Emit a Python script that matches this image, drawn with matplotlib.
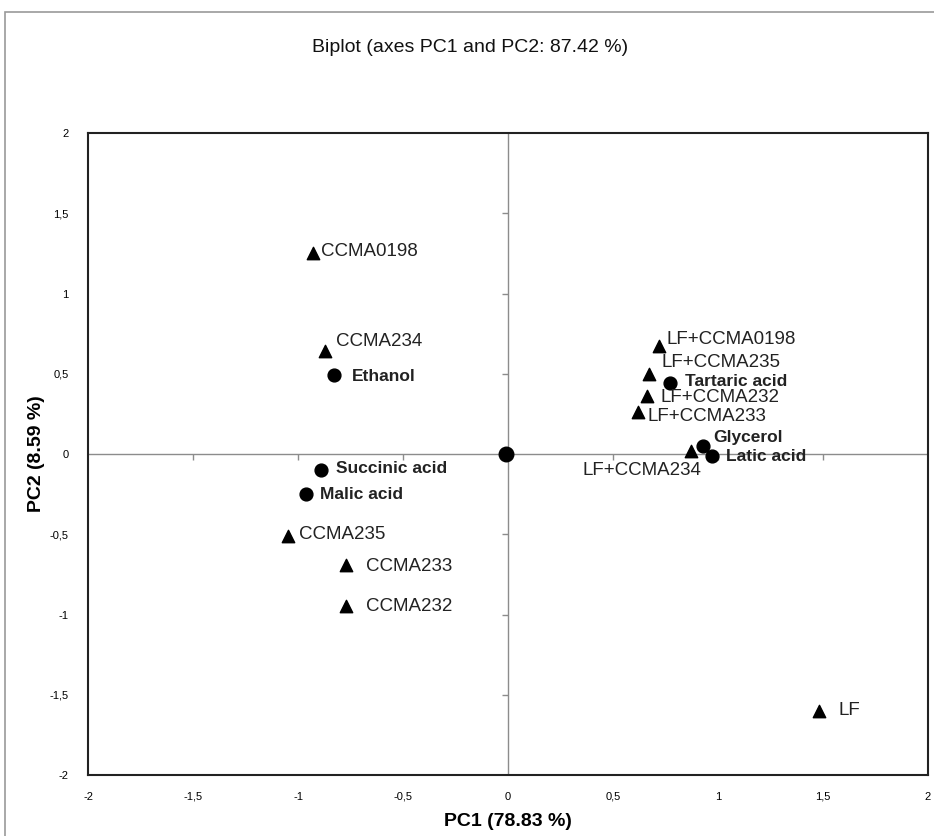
import matplotlib
matplotlib.use("Agg")
import matplotlib.pyplot as plt
from matplotlib.patches import Rectangle
from matplotlib.markers import TICKDOWN, TICKLEFT

# observations (triangles)
obs_names = ['CCMA0198', 'CCMA234', 'CCMA235', 'CCMA233', 'CCMA232', 'LF',
             'LF+CCMA0198', 'LF+CCMA235', 'LF+CCMA232', 'LF+CCMA233', 'LF+CCMA234']
obs_x = [-0.93, -0.87, -1.05, -0.77, -0.77, 1.48, 0.72, 0.67, 0.66, 0.62, 0.87]
obs_y = [1.25, 0.64, -0.51, -0.69, -0.95, -1.6, 0.67, 0.50, 0.36, 0.26, 0.02]

# variables (circles)
var_names = ['Ethanol', 'Succinic acid', 'Malic acid', 'Tartaric acid', 'Glycerol', 'Latic acid']
var_x = [-0.83, -0.89, -0.96, 0.77, 0.93, 0.97]
var_y = [0.49, -0.10, -0.25, 0.44, 0.05, -0.01]

ticks = [-2, -1.5, -1, -0.5, 0, 0.5, 1, 1.5, 2]
tick_labels = ['-2', '-1,5', '-1', '-0,5', '0', '0,5', '1', '1,5', '2']

# label offsets in points
obs_off = [(6, 1), (8, 7), (8, 1), (14, -1), (14, 0), (14, 0),
           (5, 5), (9, 8), (10, -1), (7, -3), (-78, -14)]
var_off = [(13, -1), (11, 1), (10, 0), (11, 1), (7, 6), (10, -1)]

plt.rcParams['font.family'] = ['Liberation Sans', 'DejaVu Sans']

fig = plt.figure(figsize=(9.34, 8.36), dpi=100)
fig.patches.append(Rectangle((5 / 934, -0.1), 1.2, 1 - 12 / 836 + 0.1, transform=fig.transFigure,
                             fill=False, edgecolor='#9a9a9a', linewidth=1.2))
ax = fig.add_axes([88 / 934, 1 - 775 / 836, 840 / 934, 642 / 836])

# centre axes with little ticks
ax.axhline(0, color='#8c8c8c', lw=1, zorder=1)
ax.axvline(0, color='#8c8c8c', lw=1, zorder=1)
inner = [t for t in ticks if t not in (-2, 0, 2)]
ax.plot(inner, [0] * len(inner), ls='none', marker=TICKDOWN, ms=4, mew=1, color='#8c8c8c', zorder=1)
ax.plot([0] * len(inner), inner, ls='none', marker=TICKLEFT, ms=4, mew=1, color='#8c8c8c', zorder=1)

ax.scatter(obs_x, obs_y, marker='^', s=80, color='black', zorder=3)
ax.scatter(var_x, var_y, marker='o', s=85, color='black', zorder=3)
ax.scatter([-0.01], [0], marker='o', s=110, color='black', zorder=3)

for n, x, y, (dx, dy) in zip(obs_names, obs_x, obs_y, obs_off):
    ax.annotate(n, (x, y), xytext=(dx, dy), textcoords='offset points',
                fontsize=13.5, va='center', ha='left', color='#222222')
for n, x, y, (dx, dy) in zip(var_names, var_x, var_y, var_off):
    ax.annotate(n, (x, y), xytext=(dx, dy), textcoords='offset points',
                fontsize=12.5, fontweight='bold', va='center', ha='left', color='#222222')

ax.set_xlim(-2, 2)
ax.set_ylim(-2, 2)
ax.set_xticks(ticks)
ax.set_xticklabels(tick_labels, fontsize=8)
ax.set_yticks(ticks)
ax.set_yticklabels(tick_labels, fontsize=8)
ax.tick_params(axis='x', length=0, pad=12)
ax.tick_params(axis='y', length=0, pad=14)
for s in ax.spines.values():
    s.set_linewidth(1.5)
    s.set_color('#222222')

ax.set_xlabel('PC1 (78.83 %)', fontsize=14, fontweight='bold', labelpad=8)
ax.set_ylabel('PC2 (8.59 %)', fontsize=14, fontweight='bold', labelpad=3)
fig.text(470 / 934, 1 - 47 / 836, 'Biplot (axes PC1 and PC2: 87.42 %)', ha='center', va='center',
         fontsize=14, color='#111111')

fig.savefig('out.png', dpi=100)
